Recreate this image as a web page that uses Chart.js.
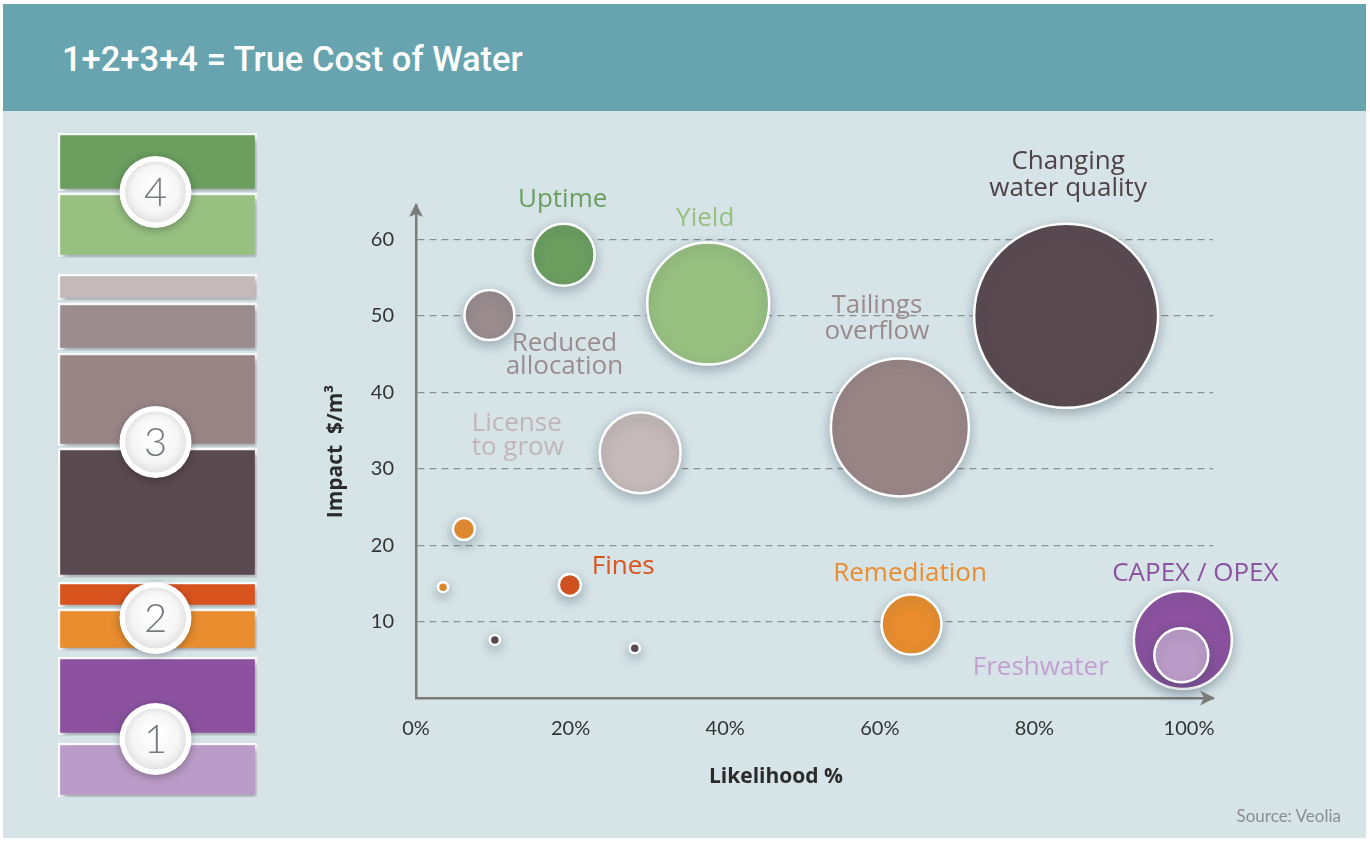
<!DOCTYPE html>
<html>
<head>
<meta charset="utf-8">
<script src="https://cdn.jsdelivr.net/npm/chart.js@4"></script>
<style>
  body { margin: 0; background: #fff; }
  #wrap { position: relative; width: 1370px; height: 841px; overflow: hidden; }
  #panel { position: absolute; left: 3px; top: 4px; width: 1363px; height: 834px; background: #d6e4e8; }
  #header { position: absolute; left: 3px; top: 4px; width: 1363px; height: 107px; background: #67a4b0; }
  #title { position: absolute; left: 62px; top: 42px; font: 500 34.5px Roboto, sans-serif; line-height: 34px; color: #fff; white-space: nowrap; }
  #stack { position: absolute; left: 40px; top: 120px; }
  #bubbles { position: absolute; left: 0; top: 0; }
  #source { position: absolute; right: 29px; top: 805px; font: 400 17px Lato, sans-serif; color: #8b8e90; }
</style>
</head>
<body>
<div id="wrap">
  <div id="panel"></div>
  <div id="header"></div>
  <div id="title">1+2+3+4 = True Cost of Water</div>
  <canvas id="stack" width="250" height="700"></canvas>
  <canvas id="bubbles" width="1370" height="841"></canvas>
  <div id="source">Source: Veolia</div>
</div>
<script>
// cost items, top of the stack to the bottom
const categories = ['Uptime', 'Yield', 'License to grow', 'Reduced allocation', 'Tailings overflow',
  'Changing water quality', 'Fines', 'Remediation', 'CAPEX / OPEX', 'Freshwater'];
const costGroup = [4, 4, 3, 3, 3, 3, 2, 2, 1, 1];
const likelihood = [19.1, 37.8, 29.0, 9.5, 62.6, 84.1, 19.9, 64.1, 99.2, 99.0];
const impact = [58.0, 51.6, 32.1, 50.1, 35.4, 50.0, 14.8, 9.6, 7.6, 5.6];
const bubbleSize = [31, 61, 40.5, 25, 69, 92, 11, 30, 49, 27];
const costShare = [58, 64, 26, 47, 93, 129, 25, 41, 78, 54];

// small unlabelled points (index of the item whose colour they share)
const minorItem = [7, 7, 5, 5];
const minorLikelihood = [6.2, 3.5, 10.2, 28.3];
const minorImpact = [22.1, 14.5, 7.6, 6.5];
const minorSize = [11, 5, 5, 5];

const xTicks = [0, 20, 40, 60, 80, 100];
const yTicks = [10, 20, 30, 40, 50, 60];

const colors = ['#6b9e5f', '#97c081', '#c5b9b9', '#9a8c8f', '#9a8586',
  '#5a4a50', '#d9531f', '#e98d2e', '#8c52a0', '#bb9bc8'];
const labelColors = ['#6a9e5f', '#97c080', '#c2b5b6', '#9a8d8f', '#9a8a8c',
  '#4e4247', '#d9531f', '#e98d2e', '#8c52a0', '#c29fd0'];

// label placement relative to each bubble centre (px)
const labelPos = [
  { dx: -1, dy: [-47.5], align: 'center' },
  { dx: -3, dy: [-78], align: 'center' },
  { dx: -168.5, dy: [-22, 2], align: 'left' },
  { dx: 75, dy: [36, 59], align: 'center' },
  { dx: -23, dy: [-114.5, -88.5], align: 'center' },
  { dx: 2, dy: [-147, -120], align: 'center' },
  { dx: 22, dy: [-11], align: 'left' },
  { dx: -1.5, dy: [-44], align: 'center' },
  { dx: 12.5, dy: [-59], align: 'center' },
  { dx: -140.5, dy: [20], align: 'center' }
];
const labelLines = [['Uptime'], ['Yield'], ['License', 'to grow'], ['Reduced', 'allocation'],
  ['Tailings', 'overflow'], ['Changing', 'water quality'], ['Fines'], ['Remediation'],
  ['CAPEX / OPEX'], ['Freshwater']];

// ---------- left stack ----------
const gapAfter = [2, 17, 3, 3, 2, 5, 2, 7, 8, 0];
const circleShift = { 4: 0, 3: -5, 2: 10, 1: 0 };
let pos = 0;
const ranges = costShare.map((v, i) => {
  const r = [pos, pos + v];
  pos += v + gapAfter[i];
  return r;
});
const stackTotal = pos;

const stackDecor = {
  id: 'stackDecor',
  beforeDatasetsDraw(chart) {
    const ctx = chart.ctx;
    ctx.save();
    ctx.shadowColor = 'rgba(50,70,80,0.45)';
    ctx.shadowBlur = 6;
    ctx.shadowOffsetX = 3;
    ctx.shadowOffsetY = 4;
  },
  afterDatasetsDraw(chart) {
    const ctx = chart.ctx;
    ctx.restore();
    const ys = chart.scales.y;
    const cx = (chart.chartArea.left + chart.chartArea.right) / 2 - 2;
    [4, 3, 2, 1].forEach(g => {
      const first = costGroup.lastIndexOf(g) - 1;
      const cy = ys.getPixelForValue((ranges[first][1] + ranges[first + 1][0]) / 2) + circleShift[g];
      ctx.save();
      ctx.shadowColor = 'rgba(0,0,0,0.3)';
      ctx.shadowBlur = 8;
      ctx.shadowOffsetY = 2;
      ctx.beginPath();
      ctx.arc(cx, cy, 36, 0, Math.PI * 2);
      ctx.fillStyle = '#fff';
      ctx.fill();
      ctx.restore();
      const grad = ctx.createRadialGradient(cx, cy - 8, 4, cx, cy, 31);
      grad.addColorStop(0, '#ffffff');
      grad.addColorStop(0.7, '#f6f6f6');
      grad.addColorStop(1, '#e2e2e2');
      ctx.beginPath();
      ctx.arc(cx, cy, 30.5, 0, Math.PI * 2);
      ctx.fillStyle = grad;
      ctx.fill();
      ctx.fillStyle = '#777a80';
      ctx.font = '300 40px Lato, sans-serif';
      ctx.textAlign = 'center';
      ctx.textBaseline = 'middle';
      ctx.fillText(String(g), cx, cy + 1);
    });
  }
};

new Chart(document.getElementById('stack'), {
  type: 'bar',
  data: {
    labels: ['cost'],
    datasets: categories.map((c, i) => ({
      label: c,
      data: [ranges[i]],
      backgroundColor: colors[i],
      borderColor: '#ffffff',
      borderWidth: 2.5,
      borderSkipped: false,
      grouped: false,
      barPercentage: 1,
      categoryPercentage: 1
    }))
  },
  options: {
    responsive: false,
    animation: false,
    layout: { padding: { left: 18, right: 33, top: 13, bottom: 23 } },
    plugins: { legend: { display: false }, tooltip: { enabled: false } },
    scales: {
      x: { display: false },
      y: { display: false, reverse: true, min: 0, max: stackTotal }
    }
  },
  plugins: [stackDecor]
});

// ---------- bubble chart ----------
const points = categories.map((c, i) => ({ x: likelihood[i], y: impact[i], r: bubbleSize[i] }));
const pointColors = colors.slice();
minorItem.forEach((m, i) => {
  points.push({ x: minorLikelihood[i], y: minorImpact[i], r: minorSize[i] });
  pointColors.push(colors[m]);
});

const bubbleDecor = {
  id: 'bubbleDecor',
  beforeDatasetsDraw(chart) {
    const ctx = chart.ctx;
    ctx.save();
    ctx.shadowColor = 'rgba(50,70,80,0.35)';
    ctx.shadowBlur = 12;
    ctx.shadowOffsetY = 4;
  },
  afterDatasetsDraw(chart) {
    const ctx = chart.ctx;
    ctx.restore();
    const meta = chart.getDatasetMeta(0);
    ctx.save();
    ctx.font = '400 26px "Open Sans", sans-serif';
    ctx.textBaseline = 'alphabetic';
    categories.forEach((c, i) => {
      const el = meta.data[i];
      const lp = labelPos[i];
      ctx.fillStyle = labelColors[i];
      ctx.textAlign = lp.align;
      labelLines[i].forEach((t, k) => ctx.fillText(t, el.x + lp.dx, el.y + lp.dy[k]));
    });
    ctx.restore();
  },
  afterDraw(chart) {
    const ctx = chart.ctx;
    const a = chart.chartArea;
    ctx.save();
    ctx.fillStyle = '#7b7b7b';
    // arrow heads
    ctx.beginPath();
    ctx.moveTo(a.left, a.top - 2);
    ctx.lineTo(a.left - 7, a.top + 12);
    ctx.lineTo(a.left, a.top + 9);
    ctx.lineTo(a.left + 7, a.top + 12);
    ctx.closePath();
    ctx.fill();
    ctx.beginPath();
    ctx.moveTo(a.right + 2, a.bottom);
    ctx.lineTo(a.right - 13, a.bottom - 7.5);
    ctx.lineTo(a.right - 9, a.bottom);
    ctx.lineTo(a.right - 13, a.bottom + 7.5);
    ctx.closePath();
    ctx.fill();
    // axis titles
    ctx.fillStyle = '#2b2b2b';
    ctx.font = '700 21px "Open Sans", sans-serif';
    ctx.textAlign = 'center';
    ctx.textBaseline = 'alphabetic';
    ctx.fillText('Likelihood %', a.left + 360, a.bottom + 85);
    ctx.translate(a.left - 74, (a.top + a.bottom) / 2);
    ctx.rotate(-Math.PI / 2);
    ctx.fillText('Impact  $/m\u00b3', 0, 0);
    ctx.restore();
  }
};

new Chart(document.getElementById('bubbles'), {
  type: 'bubble',
  data: {
    datasets: [{
      label: 'True cost of water',
      data: points,
      backgroundColor: pointColors,
      borderColor: '#ffffff',
      borderWidth: 2.5,
      hoverRadius: 0,
      clip: false
    }]
  },
  options: {
    responsive: false,
    animation: false,
    layout: { padding: { left: 300, right: 157, top: 205, bottom: 83 } },
    plugins: { legend: { display: false }, tooltip: { enabled: false } },
    scales: {
      x: {
        type: 'linear',
        min: 0,
        max: 103.1,
        afterFit: s => { s.height = 60; },
        afterBuildTicks: s => { s.ticks = xTicks.map(v => ({ value: v })); },
        grid: { display: false, drawTicks: false },
        border: { display: true, color: '#7b7b7b', width: 2.5 },
        ticks: {
          padding: 19,
          color: '#333333',
          font: { family: 'Lato', size: 20 },
          callback: v => v + '%'
        }
      },
      y: {
        type: 'linear',
        min: 0,
        max: 64.5,
        afterFit: s => { s.width = 116; },
        afterBuildTicks: s => { s.ticks = yTicks.map(v => ({ value: v })); },
        grid: { color: '#8a9093', lineWidth: 1.2, drawTicks: false },
        border: { display: true, color: '#7b7b7b', width: 2.5, dash: [7, 5] },
        ticks: {
          padding: 22,
          color: '#333333',
          font: { family: 'Lato', size: 20 }
        }
      }
    }
  },
  plugins: [bubbleDecor]
});
</script>
</body>
</html>
